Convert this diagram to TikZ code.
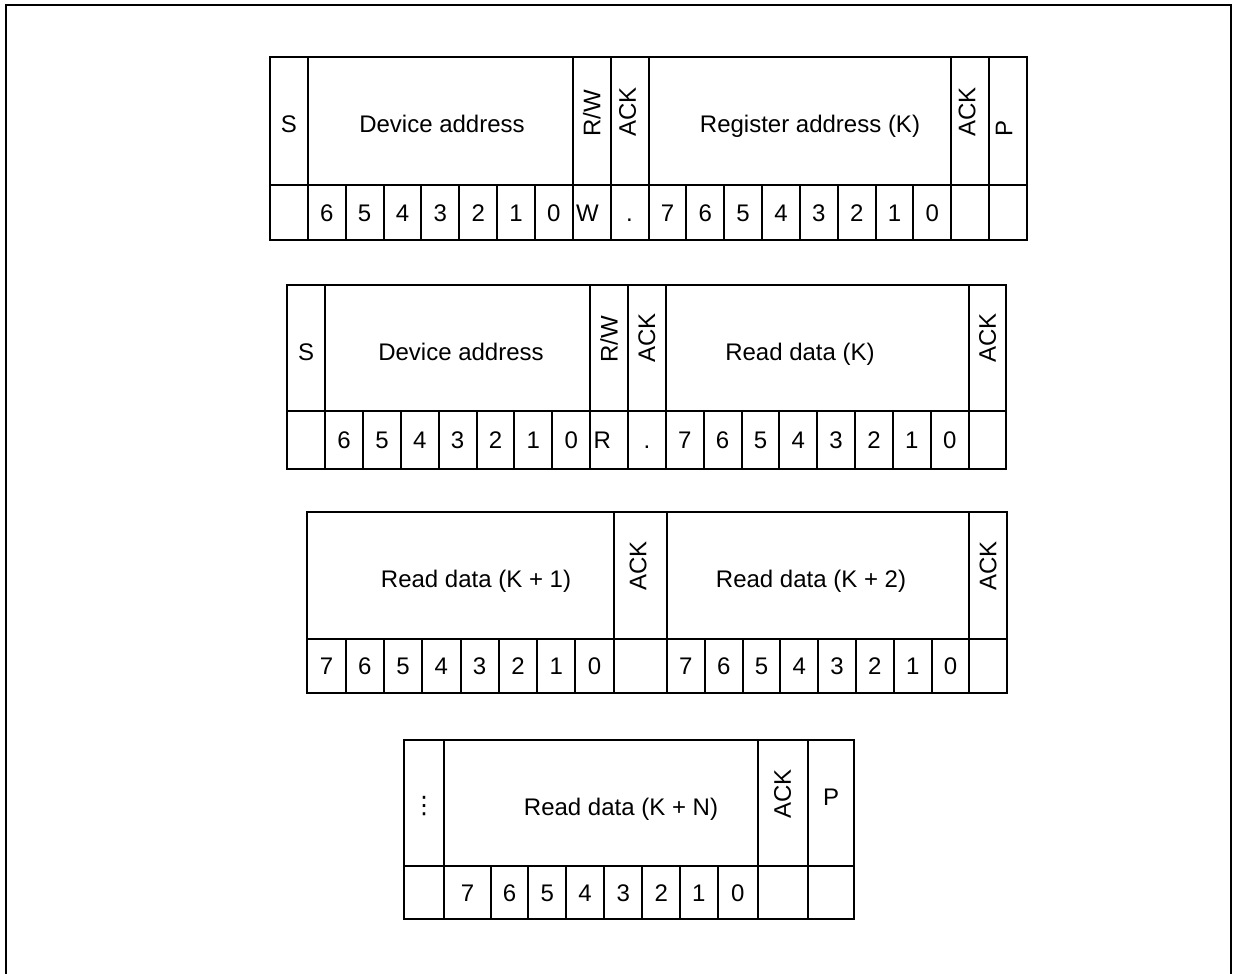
\documentclass[tikz,border=0pt]{standalone}
\usepackage{fontspec}
\setmainfont{Liberation Sans}
\newfontfamily\dotsfont{DejaVu Sans}
\usetikzlibrary{calc}

\tikzset{
  cell/.style={line width=1pt},
  lbl/.style={font=\fontsize{12}{14}\selectfont,inner sep=0pt,anchor=base},
  vlbl/.style={font=\fontsize{12}{14}\selectfont,inner sep=0pt,rotate=90,anchor=west},
}

\begin{document}
\begin{tikzpicture}[x=0.5pt,y=-0.5pt]
\useasboundingbox (0,0) rectangle (1233,974);
\draw[line width=1pt] (6,980) -- (6,5) -- (1231,5) -- (1231,980);

\def\w{37.85}

% write register address
\draw[cell] (270,57) rectangle (1027,240);
\draw[cell] (270,185) -- (1027,185);
\foreach \i in {1,8,9,10,18,19} \draw[cell] (270+\i*\w,57) -- (270+\i*\w,240);
\foreach \i in {2,3,4,5,6,7,11,12,13,14,15,16,17} \draw[cell] (270+\i*\w,185) -- (270+\i*\w,240);
\node[lbl] (s1) at (270+0.5*\w,133) {S};
\node[lbl] (dev1) at (442,133) {Device address};
\node[vlbl] (rw1) at (270+8.5*\w,137) {R/W};
\node[vlbl] (ack1) at (270+9.5*\w-2,137) {ACK};
\node[lbl] (reg1) at (810,133) {Register address (K)};
\node[vlbl] (ack2) at (270+18.5*\w-3,137) {ACK};
\node[vlbl] (p1) at (270+19.5*\w-4,137) {P};
\foreach \d [count=\k] in {6,5,4,3,2,1,0}
  \node[lbl] (da\k) at (270+\k*\w+0.5*\w,221) {\d};
\node[lbl,anchor=base west] (w1) at (270+8*\w+3,221) {W};
\node[lbl] (dot1) at (270+9.5*\w,221) {.};
\foreach \d [count=\k] in {7,6,5,4,3,2,1,0}
  \node[lbl] (ra\k) at (270+\k*\w+9.5*\w,221) {\d};

% read device address
\draw[cell] (287.3,285) rectangle (287.3+19*\w,469);
\draw[cell] (287.3,411) -- (287.3+19*\w,411);
\foreach \i in {1,8,9,10,18} \draw[cell] (287.3+\i*\w,285) -- (287.3+\i*\w,469);
\foreach \i in {2,3,4,5,6,7,11,12,13,14,15,16,17} \draw[cell] (287.3+\i*\w,411) -- (287.3+\i*\w,469);
\node[lbl] (s2) at (287.3+0.5*\w,360) {S};
\node[lbl] (dev2) at (461,360) {Device address};
\node[vlbl] (rw2) at (287.3+8.5*\w,363) {R/W};
\node[vlbl] (ack3) at (287.3+9.5*\w,363) {ACK};
\node[lbl] (rd0) at (800,360) {Read data (K)};
\node[vlbl] (ack4) at (287.3+18.5*\w,363) {ACK};
\foreach \d [count=\k] in {6,5,4,3,2,1,0}
  \node[lbl] (db\k) at (287.3+\k*\w+0.5*\w,448.5) {\d};
\node[lbl,anchor=base west] (r2) at (287.3+8*\w+3,448.5) {R};
\node[lbl] (dot2) at (287.3+9.5*\w,448.5) {.};
\foreach \d [count=\k] in {7,6,5,4,3,2,1,0}
  \node[lbl] (rb\k) at (287.3+\k*\w+9.5*\w,448.5) {\d};

% read data K+1, K+2
\draw[cell] (307.3,512) rectangle (1007,693);
\draw[cell] (307.3,639) -- (1007,639);
\foreach \x in {613.7,667,969.4} \draw[cell] (\x,512) -- (\x,693);
\foreach \i in {1,...,7} {
  \draw[cell] (307.3+\i*38.3,639) -- (307.3+\i*38.3,693);
  \draw[cell] (667+\i*37.8,639) -- (667+\i*37.8,693);
}
\node[lbl] (rd1) at (476,587.5) {Read data (K + 1)};
\node[vlbl] (ack5) at (638,591) {ACK};
\node[lbl] (rd2) at (811,587.5) {Read data (K + 2)};
\node[vlbl] (ack6) at (988.2,591) {ACK};
\foreach \d [count=\k] in {7,6,5,4,3,2,1,0} {
  \node[lbl] (rc\k) at (307.3+\k*38.3-19.15,674.5) {\d};
  \node[lbl] (rd\k) at (667+\k*37.8-18.9,674.5) {\d};
}

% read data K+N
\draw[cell] (404,740) rectangle (854.3,919);
\draw[cell] (404,866) -- (854.3,866);
\foreach \x in {444.3,757.7,807.7} \draw[cell] (\x,740) -- (\x,919);
\foreach \x in {490.7,528.3,566,604,642.3,680,717.7} \draw[cell] (\x,866) -- (\x,919);
\node[font=\dotsfont\fontsize{12}{14}\selectfont,inner sep=0pt] (dots) at (424,806) {⋮};
\node[lbl] (rdn) at (621,815) {Read data (K + N)};
\node[vlbl] (ack7) at (782.7,819) {ACK};
\node[lbl] (p2) at (831,805) {P};
\foreach \d/\x [count=\k] in {7/467.5,6/509.5,5/547.2,4/585,3/623.2,2/661.2,1/698.9,0/737.7}
  \node[lbl] (re\k) at (\x,901) {\d};
\end{tikzpicture}
\end{document}
